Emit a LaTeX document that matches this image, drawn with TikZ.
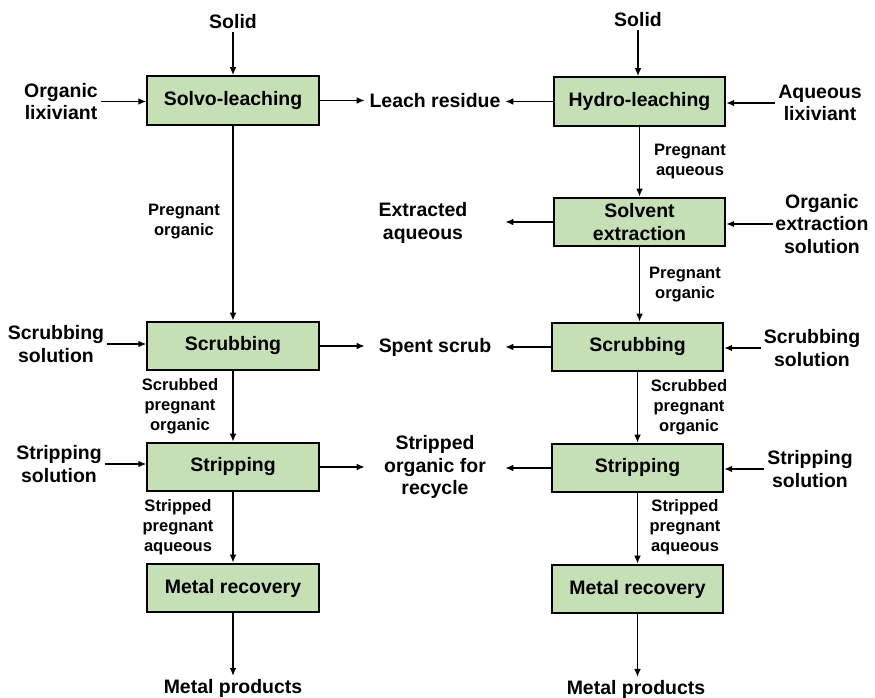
\documentclass[tikz,border=0pt]{standalone}
\usepackage{fontspec}
\setmainfont{Liberation Sans}
\usepackage{xcolor}
\usepackage{tikz}
\usetikzlibrary{arrows.meta}
\definecolor{boxgreen}{RGB}{197,224,180}
\tikzstyle{block}=[rectangle,draw=black,fill=boxgreen,line width=1.5pt,minimum width=128.5pt,minimum height=36.5pt,inner sep=0pt,align=center,font=\bfseries\fontsize{14.6}{17}\selectfont]
\tikzstyle{stream}=[align=center,inner sep=2pt,font=\bfseries\fontsize{14.6}{17}\selectfont]
\tikzstyle{mid}=[stream,minimum width=105pt,inner sep=0pt]
\tikzstyle{tag}=[align=center,inner sep=0pt,font=\bfseries\fontsize{12.4}{15}\selectfont]
\tikzstyle{edge}=[draw,line width=1.1pt,-{Latex[length=6pt,width=5pt]}]

\begin{document}
\begin{tikzpicture}[x=0.75pt,y=-0.75pt]
    \useasboundingbox (0,0) rectangle (875,698);
    % First we draw the process boxes of both routes
    \foreach \pos/\name/\txt in {{(233,100.5)/sl/Solvo-leaching}, {(233,346)/lsc/Scrubbing},
    {(233,467)/lst/Stripping}, {(233,588)/lmr/Metal recovery},
    {(639.5,101.5)/hl/Hydro-leaching}, {(639.5,222)/sx/{Solvent\\extraction}},
    {(637.5,347)/rsc/Scrubbing}, {(637.5,468)/rst/Stripping}, {(637.5,589)/rmr/Metal recovery}}
        \node[block] (\name) at \pos {\txt};

    % Feeds and products
    \foreach \pos/\name/\txt in {{(233,22)/solidL/Solid}, {(638,20)/solidR/Solid},
    {(61,101.5)/orglix/{Organic\\lixiviant}}, {(820,103)/aqlix/{Aqueous\\lixiviant}},
    {(822,224)/orgext/{Organic\\extraction\\solution}},
    {(56,344)/scsolL/{Scrubbing\\solution}}, {(812,348)/scsolR/{Scrubbing\\solution}},
    {(59,464)/stsolL/{Stripping\\solution}}, {(810,469)/stsolR/{Stripping\\solution}},
    {(233,688)/prodL/Metal products}, {(636,689)/prodR/Metal products}}
        \node[stream] (\name) at \pos {\txt};

    % Streams shared in the middle
    \foreach \pos/\name/\txt in {{(435,101)/leachres/Leach residue}, {(435,347)/spent/Spent scrub},
    {(435,467)/recyc/{Stripped\\organic for\\recycle}}}
        \node[mid] (\name) at \pos {\txt};
    \node[stream,minimum width=123pt,inner sep=0pt] (extaq) at (423,223) {Extracted\\aqueous};

    % Labels beside the vertical streams
    \foreach \pos/\name/\txt in {{(184,222)/tPO/{Pregnant\\organic}},
    {(180,406)/tSPO/{Scrubbed\\pregnant\\organic}}, {(178,527)/tSPA/{Stripped\\pregnant\\aqueous}},
    {(690,162)/tPA/{Pregnant\\aqueous}}, {(685,285)/tPOR/{Pregnant\\organic}},
    {(689,407)/tSPOR/{Scrubbed\\pregnant\\organic}}, {(685,527)/tSPAR/{Stripped\\pregnant\\aqueous}}}
        \node[tag] (\name) at \pos {\txt};

    % Connect vertices with edges
    \foreach \source/\dest in {solidL/sl, sl/lsc, lsc/lst, lst/lmr, lmr/prodL,
    solidR/hl, hl/sx, sx/rsc, rsc/rst, rst/rmr, rmr/prodR}
        \path[edge] (\source.south) -- (\source.south |- \dest.north);
    \foreach \source/\sa/\dest/\da in {orglix/east/sl/west, scsolL/east/lsc/west, stsolL/east/lst/west,
    sl/east/leachres/west, lsc/east/spent/west, lst/east/recyc/west,
    hl/west/leachres/east, sx/west/extaq/east, rsc/west/spent/east, rst/west/recyc/east,
    aqlix/west/hl/east, orgext/west/sx/east, scsolR/west/rsc/east, stsolR/west/rst/east}
        \path[edge] (\source.\sa) -- (\source.\sa -| \dest.\da);
\end{tikzpicture}
\end{document}
